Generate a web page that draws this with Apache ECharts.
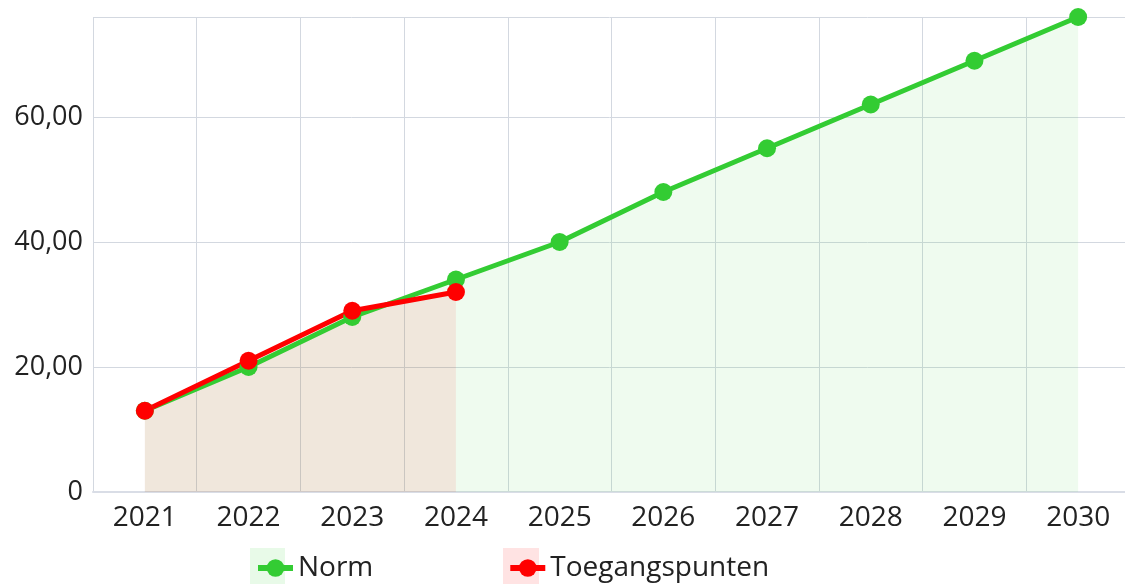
<!DOCTYPE html>
<html>
<head>
<meta charset="utf-8">
<script src="https://cdn.jsdelivr.net/npm/echarts@6/dist/echarts.min.js"></script>
<style>
  html, body { margin: 0; padding: 0; background: #fff; }
  #chart { width: 1125px; height: 586px; }
</style>
</head>
<body>
<div id="chart"></div>
<script>
var years = ['2021', '2022', '2023', '2024', '2025', '2026', '2027', '2028', '2029', '2030'];
var normData = [13, 20, 28, 34, 40, 48, 55, 62, 69, 76];
var toegangData = [13, 21, 29, 32];

var chart = echarts.init(document.getElementById('chart'));
chart.setOption({
  animation: false,
  textStyle: { fontFamily: 'Open Sans' },
  grid: { left: 93, right: -5, top: 17, bottom: 94, outerBoundsMode: 'none' },
  // lichte achtergrondvlakjes achter de legendasymbolen
  graphic: [
    { type: 'rect', left: 250, top: 548, z: -1, shape: { width: 35, height: 36 }, style: { fill: 'rgba(50,205,50,0.11)' } },
    { type: 'rect', left: 503, top: 548, z: -1, shape: { width: 36, height: 36 }, style: { fill: 'rgba(255,0,0,0.11)' } }
  ],
  legend: {
    left: 250,
    top: 549,
    itemWidth: 35,
    itemHeight: 22,
    itemGap: 134,
    textStyle: { fontSize: 28, color: '#222' },
    lineStyle: { width: 6 },
    data: ['Norm', 'Toegangspunten']
  },
  xAxis: {
    type: 'category',
    data: years,
    boundaryGap: true,
    axisLine: { lineStyle: { color: '#d9dde6', width: 2 } },
    axisTick: { show: false },
    axisLabel: { fontSize: 28, color: '#222', margin: 12 },
    splitLine: { show: true, interval: 0, lineStyle: { color: '#d3d8e0' } }
  },
  yAxis: {
    type: 'value',
    min: 0,
    max: 76,
    interval: 20,
    axisLine: { show: false },
    axisTick: { show: false },
    axisLabel: {
      fontSize: 27, color: '#222', margin: 10, showMaxLabel: false,
      formatter: function (v) { return v === 0 ? '0' : v.toFixed(2).replace('.', ','); }
    },
    splitLine: { lineStyle: { color: '#d3d8e0' } }
  },
  series: [
    {
      name: 'Norm',
      type: 'line',
      data: normData,
      color: '#33cc33',
      symbol: 'circle',
      symbolSize: 18,
      lineStyle: { width: 5, color: '#33cc33' },
      itemStyle: { color: '#33cc33' },
      areaStyle: { color: 'rgba(50,205,50,0.11)' }
    },
    {
      name: 'Toegangspunten',
      type: 'line',
      data: toegangData,
      color: '#ff0000',
      symbol: 'circle',
      symbolSize: 18,
      lineStyle: { width: 5, color: '#ff0000' },
      itemStyle: { color: '#ff0000' },
      areaStyle: { color: 'rgba(255,0,0,0.11)' }
    }
  ]
});
</script>
</body>
</html>
